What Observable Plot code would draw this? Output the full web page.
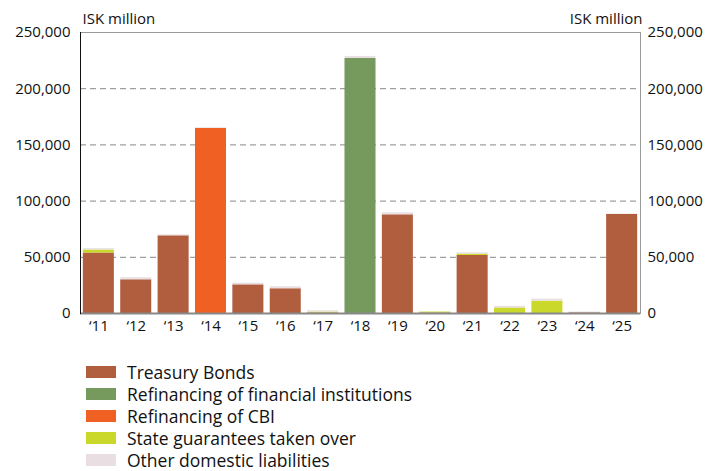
<!DOCTYPE html>
<html>
<head>
<meta charset="utf-8">
<script src="https://cdn.jsdelivr.net/npm/d3@7"></script>
<script src="https://cdn.jsdelivr.net/npm/@observablehq/plot@0.6"></script>
<style>
  body { margin: 0; background: #fff; font-family: "Open Sans", sans-serif; }
  #chart svg { display: block; }
  .legend { margin-top: 16px; padding-left: 86px; font-size: 17.5px; color: #111; }
  .legend .row { display: flex; align-items: center; height: 22px; }
  .legend .sw { width: 30px; height: 12px; margin-right: 11px; flex: none; }
</style>
</head>
<body>
<div id="chart"></div>
<div class="legend" id="legend"></div>
<script>
const years = ["‘11","‘12","‘13","‘14","‘15","‘16","‘17","‘18","‘19","‘20","‘21","‘22","‘23","‘24","‘25"];
const seriesNames = ["Treasury Bonds","Refinancing of financial institutions","Refinancing of CBI","State guarantees taken over","Other domestic liabilities"];
const seriesColors = ["#b05e3e","#76995e","#f06022","#c9d82b","#e9dfe2"];
const treasury   = [53800, 30000, 69100, 0, 25500, 22000, 500, 0, 87800, 500, 51600, 0, 0, 600, 88100];
const finInst    = [0, 0, 0, 0, 0, 0, 0, 226900, 0, 0, 0, 0, 0, 0, 0];
const cbi        = [0, 0, 0, 164600, 0, 0, 0, 0, 0, 0, 0, 0, 0, 0, 0];
const guarantees = [2700, 0, 0, 0, 0, 0, 800, 0, 0, 800, 1200, 4900, 11000, 0, 0];
const other      = [1200, 1800, 900, 600, 1500, 1800, 1200, 1800, 1800, 0, 1200, 1500, 1800, 700, 300];
const yTicks = [0, 50000, 100000, 150000, 200000, 250000];
const gridTicks = [50000, 100000, 150000, 200000];

const seriesValues = [treasury, finInst, cbi, guarantees, other];
const data = [];
seriesNames.forEach((s, si) => {
  years.forEach((yr, i) => data.push({year: yr, series: s, value: seriesValues[si][i]}));
});

const fmt = d3.format(",");
const plot = Plot.plot({
  width: 712,
  height: 345,
  marginLeft: 80,
  marginRight: 72,
  marginTop: 32,
  marginBottom: 32,
  style: {fontFamily: "Open Sans, sans-serif", fontSize: "15px", color: "#111", background: "#fff"},
  x: {domain: years, paddingInner: 0.17, paddingOuter: 0.076, round: false, label: null},
  y: {domain: [0, 250000], label: null},
  color: {domain: seriesNames, range: seriesColors},
  marks: [
    Plot.ruleY(gridTicks, {stroke: "#888", strokeDasharray: "6,4", strokeWidth: 1}),
    Plot.barY(data, {x: "year", y: "value", fill: "series", order: seriesNames}),
    Plot.ruleY([0], {stroke: "#888", strokeWidth: 2}),
    Plot.ruleY([250000], {stroke: "#999", strokeWidth: 1}),
    Plot.frame({anchor: "right", stroke: "#999"}),
    Plot.frame({anchor: "left", stroke: "#111"}),
    Plot.axisY(yTicks, {anchor: "left", tickSize: 0, tickPadding: 10, tickFormat: fmt, label: null, fontSize: 15}),
    Plot.axisY(yTicks, {anchor: "right", tickSize: 0, tickPadding: 7, tickFormat: fmt, label: null, fontSize: 15}),
    Plot.axisX({tickSize: 0, tickPadding: 7, label: null, fontSize: 15}),
    Plot.text(["ISK million"], {frameAnchor: "top-left", textAnchor: "start", lineAnchor: "bottom", dy: -9, dx: 2, fontSize: 15}),
    Plot.text(["ISK million"], {frameAnchor: "top-right", textAnchor: "end", lineAnchor: "bottom", dy: -9, dx: 2, fontSize: 15})
  ]
});
document.getElementById("chart").append(plot);

const legend = document.getElementById("legend");
seriesNames.forEach((s, i) => {
  const row = document.createElement("div");
  row.className = "row";
  const sw = document.createElement("span");
  sw.className = "sw";
  sw.style.background = seriesColors[i];
  const t = document.createElement("span");
  t.textContent = s;
  row.append(sw, t);
  legend.append(row);
});
</script>
</body>
</html>
